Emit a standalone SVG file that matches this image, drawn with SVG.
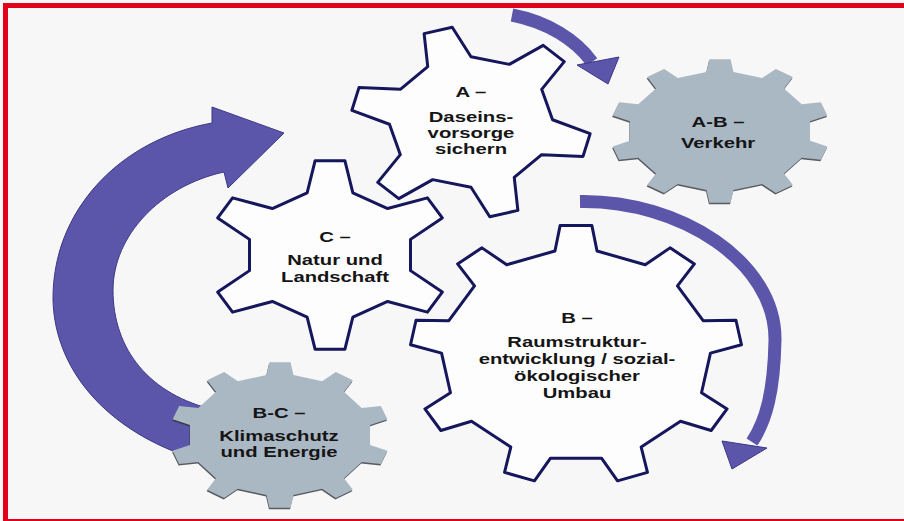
<svg xmlns="http://www.w3.org/2000/svg" width="904" height="521" viewBox="0 0 904 521">
<style>
.bg{fill:#f7f7f7}
.border{fill:none;stroke:#e3001b;stroke-width:5}
.gw{fill:#fdfdfd;stroke:#16165c;stroke-width:3;stroke-linejoin:round}
.gg{fill:#aab8c4}
.gs{fill:#2f333a;opacity:0.8}
.arrow{fill:#5b56aa;stroke:#3d3886;stroke-width:1}
.band{fill:none;stroke:#5b56aa;stroke-width:13}
text{font-family:"Liberation Sans",Arial,sans-serif;font-weight:bold;font-size:15px;fill:#151515;text-anchor:middle}
.sm text{font-size:14px}
</style>
<defs>
<path id="g6" vector-effect="non-scaling-stroke" d="M -18.74 -65.37 L -12.19 -99.25 L 12.19 -99.25 L 18.74 -65.37 L 47.24 -48.91 L 79.86 -60.18 L 92.05 -39.07 L 65.98 -16.45 L 65.98 16.45 L 92.05 39.07 L 79.86 60.18 L 47.24 48.91 L 18.74 65.37 L 12.19 99.25 L -12.19 99.25 L -18.74 65.37 L -47.24 48.91 L -79.86 60.18 L -92.05 39.07 L -65.98 16.45 L -65.98 -16.45 L -92.05 -39.07 L -79.86 -60.18 L -47.24 -48.91 Z"/>
<path id="g9" vector-effect="non-scaling-stroke" d="M -12.67 -80 L -9.58 -99.54 L 9.58 -99.54 L 12.67 -80 L 41.72 -69.43 L 56.64 -82.41 L 71.33 -70.09 L 61.13 -53.14 L 76.59 -26.37 L 96.36 -26.72 L 99.69 -7.85 L 80.99 -1.41 L 75.62 29.03 L 91 41.47 L 81.41 58.07 L 62.95 50.97 L 39.27 70.84 L 43.05 90.26 L 25.04 96.81 L 15.45 79.51 L -15.45 79.51 L -25.04 96.81 L -43.05 90.26 L -39.27 70.84 L -62.95 50.97 L -81.41 58.07 L -91 41.47 L -75.62 29.03 L -80.99 -1.41 L -99.69 -7.85 L -96.36 -26.72 L -76.59 -26.37 L -61.13 -53.14 L -71.33 -70.09 L -56.64 -82.41 L -41.72 -69.43 Z"/>
<path id="g10" d="M -12.27 -82.09 L -9.58 -99.54 L 9.58 -99.54 L 12.27 -82.09 L 38.32 -73.62 L 50.75 -86.16 L 66.26 -74.9 L 58.17 -59.2 L 74.28 -37.03 L 91.71 -39.87 L 97.63 -21.64 L 81.86 -13.7 L 81.86 13.7 L 97.63 21.64 L 91.71 39.87 L 74.28 37.03 L 58.17 59.2 L 66.26 74.9 L 50.75 86.16 L 38.32 73.62 L 12.27 82.09 L 9.58 99.54 L -9.58 99.54 L -12.27 82.09 L -38.32 73.62 L -50.75 86.16 L -66.26 74.9 L -58.17 59.2 L -74.28 37.03 L -91.71 39.87 L -97.63 21.64 L -81.86 13.7 L -81.86 -13.7 L -97.63 -21.64 L -91.71 -39.87 L -74.28 -37.03 L -58.17 -59.2 L -66.26 -74.9 L -50.75 -86.16 L -38.32 -73.62 Z"/>
</defs>
<rect class="bg" x="0" y="0" width="904" height="521"/>
<rect class="border" x="5.5" y="5.5" width="910" height="516"/>

<g id="connectors">
  <path class="arrow" d="M 205 462 C 112 436, 55 374, 53 300 C 52 212, 118 140, 212 123 L 212 107 L 284 133 L 228 188 L 224 172 C 160 186, 113 236, 113 290 C 113 350, 150 395, 215 410 Z"/>
  <path class="band" d="M 512 15 C 548 22, 576 40, 592 62"/>
  <path class="arrow" d="M 577 65 L 619 57 L 608 84 Z"/>
  <path class="band" d="M 580 201.5 C 680 200, 776 262, 775 340 C 774 392, 766 421, 752 442"/>
  <path class="arrow" d="M 722 441 L 767 448 L 732 469 Z"/>
</g>

<g id="gear-c">
  <use href="#g6" class="gw" transform="translate(330 255) scale(1.22 0.95)"/>
  <g transform="translate(335 0) scale(1.35 1)">
    <text y="242">C –</text>
    <text y="265">Natur und</text>
    <text y="282">Landschaft</text>
  </g>
</g>

<g id="gear-a">
  <use href="#g6" class="gw" transform="translate(471 122) scale(1.2 0.96) rotate(-16)"/>
  <g class="sm" transform="translate(471 0) scale(1.45 1)">
    <text y="97">A –</text>
    <text y="122">Daseins-</text>
    <text y="138">vorsorge</text>
    <text y="154">sichern</text>
  </g>
</g>

<g id="gear-b">
  <use href="#g9" class="gw" transform="translate(576 355) scale(1.66 1.3)"/>
  <g transform="translate(577 0) scale(1.35 1)">
    <text y="323">B –</text>
    <text y="347">Raumstruktur-</text>
    <text y="364">entwicklung / sozial-</text>
    <text y="381">ökologischer</text>
    <text y="398">Umbau</text>
  </g>
</g>

<g id="gear-ab">
  <use href="#g10" class="gs" transform="translate(719.5 132.5) scale(1.1 0.72)"/>
  <use href="#g10" class="gg" transform="translate(720 131) scale(1.1 0.72)"/>
  <g transform="translate(718 0) scale(1.35 1)">
    <text y="127">A-B –</text>
    <text y="148">Verkehr</text>
  </g>
</g>

<g id="gear-bc">
  <use href="#g10" class="gs" transform="translate(279.5 436.5) scale(1.1 0.73)"/>
  <use href="#g10" class="gg" transform="translate(280 435) scale(1.1 0.73)"/>
  <g class="sm" transform="translate(279 0) scale(1.45 1)">
    <text y="418">B-C –</text>
    <text y="441">Klimaschutz</text>
    <text y="457">und Energie</text>
  </g>
</g>
</svg>
